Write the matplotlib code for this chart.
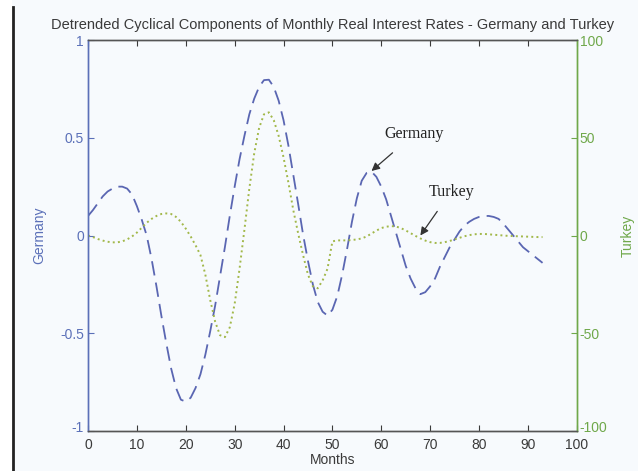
import matplotlib
matplotlib.use("Agg")
import matplotlib.pyplot as plt
from matplotlib.lines import Line2D
from matplotlib.transforms import ScaledTranslation

# Cyclical components, one value per month (0..93)
months = list(range(94))

germany = [
    0.10, 0.13, 0.165, 0.20, 0.225, 0.24, 0.25, 0.25, 0.24, 0.21,
    0.15, 0.08, 0.00, -0.12, -0.26, -0.41, -0.55, -0.68, -0.78, -0.84,
    -0.85, -0.83, -0.78, -0.71, -0.61, -0.49, -0.36, -0.21, -0.06, 0.10,
    0.25, 0.39, 0.51, 0.62, 0.70, 0.76, 0.795, 0.797, 0.76, 0.69,
    0.59, 0.46, 0.31, 0.16, 0.005, -0.13, -0.25, -0.34, -0.39, -0.41,
    -0.38, -0.31, -0.20, -0.07, 0.07, 0.19, 0.28, 0.32, 0.327, 0.30,
    0.25, 0.185, 0.10, 0.015, -0.07, -0.155, -0.22, -0.27, -0.30, -0.29,
    -0.26, -0.22, -0.16, -0.11, -0.06, -0.02, 0.02, 0.05, 0.07, 0.085,
    0.095, 0.10, 0.10, 0.095, 0.085, 0.06, 0.03, 0.00, -0.03, -0.06,
    -0.08, -0.10, -0.12, -0.14,
]

turkey = [
    0, -0.8, -1.8, -2.6, -3.2, -3.5, -3.5, -3.0, -2.0, -0.5,
    1.5, 4.0, 6.5, 8.5, 10.0, 11.0, 11.3, 11.0, 9.5, 7.0,
    3.5, -0.5, -5, -10, -20, -33, -44, -51, -52, -47,
    -35, -17, 3, 24, 42, 55, 62, 63, 59, 51,
    40, 27, 13, 1, -10, -20, -26, -27, -23, -17,
    -3, -2.5, -2.5, -2.5, -2.3, -2.0, -1.5, -0.5, 1.0, 2.5,
    3.8, 4.5, 4.8, 4.6, 3.8, 2.6, 1.2, -0.2, -1.5, -2.6,
    -3.4, -3.8, -3.8, -3.4, -2.8, -2.0, -1.2, -0.4, 0.2, 0.6,
    0.8, 0.8, 0.6, 0.4, 0.2, 0.0, -0.2, -0.3, -0.4, -0.5,
    -0.6, -0.7, -0.8, -0.8,
]

x_ticks = list(range(0, 101, 10))
left_ticks = [-1, -0.5, 0, 0.5, 1]
left_labels = ["-1", "-0.5", "0", "0.5", "1"]
right_ticks = [-100, -50, 0, 50, 100]
right_labels = ["-100", "-50", "0", "50", "100"]

BG = "#f7fafd"
BLUE = "#5a66b2"
BLUE_AX = "#5b70b8"
GREEN_LINE = "#a2b84a"
GREEN_AX = "#6fa84a"
GRAY = "#3a3a3a"

plt.rcParams["font.family"] = ["Liberation Sans", "DejaVu Sans"]

fig = plt.figure(figsize=(6.38, 4.71), dpi=100, facecolor=BG)
ax = fig.add_axes([0.138, 0.085, 0.766, 0.83])
ax.set_facecolor(BG)
ax2 = ax.twinx()

ax.plot(months, germany, color=BLUE, lw=1.3, dashes=(8, 4))
ax2.plot(months, turkey, color=GREEN_LINE, lw=1.4, linestyle=":")

ax.set_xlim(0, 100)
ax.set_ylim(-1, 1)
ax2.set_ylim(-100, 100)

ax.set_xticks(x_ticks)
ax.set_xticklabels([str(t) for t in x_ticks], color=GRAY, fontsize=10)
ax.set_yticks(left_ticks)
ax.set_yticklabels(left_labels, color=BLUE_AX, fontsize=10)
ax2.set_yticks(right_ticks)
ax2.set_yticklabels(right_labels, color=GREEN_AX, fontsize=10)

ax.tick_params(axis="x", direction="in", length=4, top=True, colors=GRAY,
               labelcolor=GRAY, pad=5)
ax.tick_params(axis="y", direction="in", length=4, colors=BLUE_AX,
               labelcolor=BLUE_AX, pad=3)
ax2.tick_params(axis="y", direction="in", length=4, colors=GREEN_AX,
                labelcolor=GREEN_AX, pad=2)

# lift the lowest y labels a little so they clear the month labels
lift = ScaledTranslation(0, 3 / 72, fig.dpi_scale_trans)
for lbl in (ax.get_yticklabels()[0], ax2.get_yticklabels()[0]):
    lbl.set_transform(lbl.get_transform() + lift)

for a in (ax, ax2):
    a.spines["top"].set_color("#555555")
    a.spines["bottom"].set_color("#555555")
    a.spines["left"].set_color(BLUE_AX)
    a.spines["right"].set_color(GREEN_AX)
    for s in a.spines.values():
        s.set_linewidth(1.0)

ax.set_xlabel("Months", color=GRAY, fontsize=10, labelpad=1)
ax.set_ylabel("Germany", color=BLUE_AX, fontsize=10, labelpad=10)
ax2.set_ylabel("Turkey", color=GREEN_AX, fontsize=10, labelpad=10)
ax.set_title("Detrended Cyclical Components of Monthly Real Interest Rates"
             " - Germany and Turkey", fontsize=10.5, color=GRAY, pad=8)

# Arrows naming each series
ax.annotate("Germany", xy=(58.0, 0.33), xytext=(66.8, 0.52),
            fontsize=11.5, family=["Liberation Serif", "DejaVu Serif"],
            ha="center", va="center", color="#222222",
            arrowprops=dict(arrowstyle="-|>", color="#333333", lw=0.9,
                            shrinkA=9, shrinkB=0, mutation_scale=12))
ax2.annotate("Turkey", xy=(68.0, 0.0), xytext=(74.3, 22.5),
             fontsize=11.5, family=["Liberation Serif", "DejaVu Serif"],
             ha="center", va="center", color="#222222",
             arrowprops=dict(arrowstyle="-|>", color="#333333", lw=0.9,
                             shrinkA=8, shrinkB=0, mutation_scale=12))

# Dark bar running down the left edge of the page
fig.add_artist(Line2D([0.0205, 0.0205], [0.0, 0.985], color="#222222",
                      lw=2.0, transform=fig.transFigure))
fig.patches.append(plt.Rectangle((0, 0), 0.019, 1, transform=fig.transFigure,
                                 facecolor="white", edgecolor="none",
                                 zorder=-1))

fig.savefig("out.png", dpi=100, facecolor=BG)
